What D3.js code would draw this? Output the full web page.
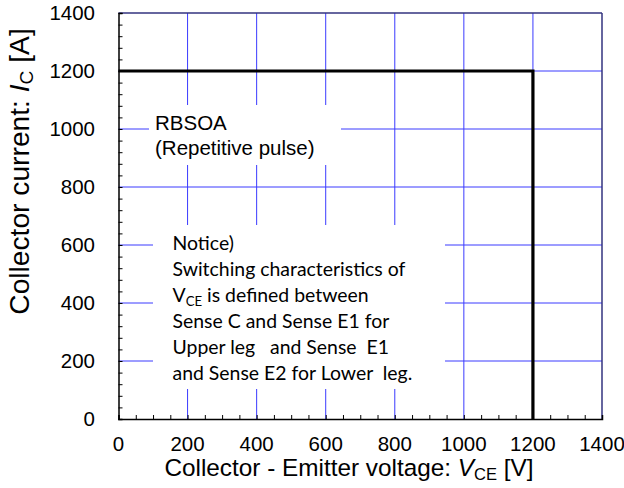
<!DOCTYPE html>
<html><head><meta charset="utf-8">
<script src="https://cdn.jsdelivr.net/npm/d3@7"></script>
<style>body{margin:0;background:#fff}svg{display:block}</style>
</head><body>
<svg id="c" width="624" height="488"></svg>
<script>
// ---- data ----
const xTicks = [0, 200, 400, 600, 800, 1000, 1200, 1400];
const yTicks = [0, 200, 400, 600, 800, 1000, 1200, 1400];
const rbsoaV = [0, 1200, 1200];        // V_CE [V]
const rbsoaI = [1200, 1200, 0];        // I_C [A]
const rbsoaLabel = ["RBSOA", "(Repetitive pulse)"];
const noticeLines = ["Notice)", "Switching characteristics of", "V|CE| is defined between",
  "Sense C and Sense E1 for", "Upper leg   and Sense  E1", "and Sense E2 for Lower  leg."];

const svg = d3.select("#c");
const x = d3.scaleLinear().domain([0, 1400]).range([118.5, 602]);
const y = d3.scaleLinear().domain([0, 1400]).range([419, 13]);
const AR = "'Liberation Sans', Arial, sans-serif";
const grid = "#3a3aff";

// gridlines
const gx = xTicks.filter(d => d > 0 && d < 1400);
const gy = yTicks.filter(d => d > 0 && d < 1400);
svg.append("g").selectAll("line").data(gx).join("line")
  .attr("x1", d => x(d)).attr("x2", d => x(d)).attr("y1", y(1400)).attr("y2", y(0))
  .attr("stroke", grid).attr("stroke-width", 1);
svg.append("g").selectAll("line").data(gy).join("line")
  .attr("y1", d => y(d)).attr("y2", d => y(d)).attr("x1", x(0)).attr("x2", x(1400))
  .attr("stroke", grid).attr("stroke-width", 1);

// white annotation boxes
svg.append("rect").attr("x", 149).attr("y", 105).attr("width", 192).attr("height", 60).attr("fill", "#fff");
svg.append("rect").attr("x", 153).attr("y", 225).attr("width", 292).attr("height", 164).attr("fill", "#fff");

// frame: top/right navy
svg.append("line").attr("x1", x(0)).attr("x2", x(1400)).attr("y1", y(1400)).attr("y2", y(1400)).attr("stroke", "#33337f").attr("stroke-width", 1.5);
svg.append("line").attr("x1", x(1400)).attr("x2", x(1400)).attr("y1", y(1400)).attr("y2", y(0)).attr("stroke", "#33337f").attr("stroke-width", 1.5);

// axes with inward minor ticks
const xAxis = d3.axisBottom(x).tickValues(d3.range(0, 1401, 50)).tickSize(-4).tickFormat("");
const yAxis = d3.axisLeft(y).tickValues(d3.range(0, 1401, 40)).tickSize(-4).tickFormat("");
const gxA = svg.append("g").attr("transform", `translate(0,${y(0)})`).call(xAxis);
const gyA = svg.append("g").attr("transform", `translate(${x(0)},0)`).call(yAxis);
[gxA, gyA].forEach(g => {
  g.select(".domain").attr("stroke", "#000").attr("stroke-width", 1.5);
  g.selectAll(".tick line").attr("stroke", "#000").attr("stroke-width", 1);
});

// tick labels
svg.append("g").selectAll("text").data(xTicks).join("text")
  .attr("x", d => x(d)).attr("y", 451).attr("text-anchor", "middle")
  .attr("font-family", AR).attr("font-size", 20.5).text(d => d);
svg.append("g").selectAll("text").data(yTicks).join("text")
  .attr("x", 95).attr("y", d => y(d)).attr("dy", "0.36em").attr("text-anchor", "end")
  .attr("font-family", AR).attr("font-size", 20.5).text(d => d);

// axis titles (font size fitted to the reference text widths)
function title(sel, main, sym, sub, unit, target) {
  sel.append("tspan").text(main);
  sel.append("tspan").attr("font-style", "italic").text(sym);
  sel.append("tspan").attr("class", "sub").attr("dy", 4).text(sub);
  sel.append("tspan").attr("dy", -4).text(unit);
  sel.attr("font-size", 20);
  sel.select(".sub").attr("font-size", 14);
  const w = sel.node().getComputedTextLength();
  const fs = 20 * target / w;
  sel.attr("font-size", fs);
  sel.select(".sub").attr("font-size", fs * 0.68);
}
const xt = svg.append("text").attr("x", 349).attr("y", 476).attr("text-anchor", "middle").attr("font-family", AR);
title(xt, "Collector - Emitter voltage: ", "V", "CE", " [V]", 370);
const yt = svg.append("text").attr("transform", "translate(29,171.5) rotate(-90)").attr("text-anchor", "middle").attr("font-family", AR);
title(yt, "Collector current: ", "I", "C", " [A]", 287);

// RBSOA boundary
const pts = rbsoaV.map((v, i) => [v, rbsoaI[i]]);
svg.append("path").datum(pts)
  .attr("d", d3.line().x(d => x(d[0])).y(d => y(d[1])))
  .attr("fill", "none").attr("stroke", "#000").attr("stroke-width", 3.2).attr("stroke-linejoin", "miter");

// RBSOA label
svg.append("g").selectAll("text").data(rbsoaLabel).join("text")
  .attr("x", 155).attr("y", (d, i) => 130 + i * 24.5)
  .attr("font-family", AR).attr("font-size", 20.5).text(d => d);

// notice text
const NF = "Lato, 'Open Sans', sans-serif";
const nt = svg.append("g").attr("font-family", NF).attr("font-size", 18);
noticeLines.forEach((line, i) => {
  const t = nt.append("text").attr("x", 172.5).attr("y", 249.5 + i * 26).attr("xml:space", "preserve").style("white-space", "pre");
  const parts = line.split("|");
  if (parts.length === 3) {
    t.append("tspan").text(parts[0]);
    t.append("tspan").attr("font-size", 12).attr("dy", 4).text(parts[1]);
    t.append("tspan").attr("dy", -4).text(parts[2]);
  } else t.text(line);
});
// fit notice font so the widest known line matches reference width (~233px)
const ref = nt.selectAll("text").nodes()[1];
const w = ref.getComputedTextLength();
const fs = 18 * 233 / w;
nt.attr("font-size", fs);
nt.selectAll("tspan").filter(function(){ return this.getAttribute("font-size"); }).attr("font-size", fs * 0.68);
</script>
</body></html>
